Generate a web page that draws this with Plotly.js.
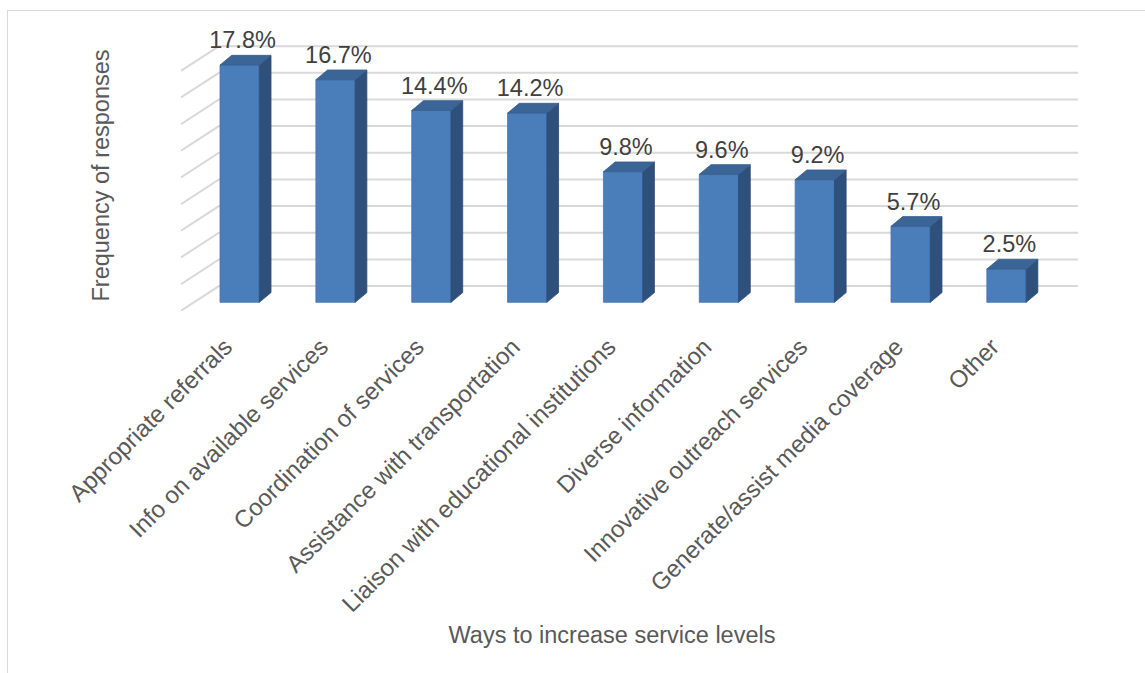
<!DOCTYPE html>
<html>
<head>
<meta charset="utf-8">
<script src="https://cdn.plot.ly/plotly-3.0.1.min.js"></script>
<style>
  html, body { margin: 0; padding: 0; background: #ffffff; overflow: hidden; }
  #frame { position: absolute; left: 7px; top: 10px; width: 1200px; height: 700px; border: 1px solid #d9d9d9; }
  #chart { position: absolute; left: 0; top: 0; width: 1145px; height: 673px; }
</style>
</head>
<body>
<div id="frame"></div>
<div id="chart"></div>
<script>
// ---- data ----
const categories = [
  "Appropriate referrals",
  "Info on available services",
  "Coordination of services",
  "Assistance with transportation",
  "Liaison with educational institutions",
  "Diverse information",
  "Innovative outreach services",
  "Generate/assist media coverage",
  "Other"
];
const values = [17.8, 16.7, 14.4, 14.2, 9.8, 9.6, 9.2, 5.7, 2.5];
const gridValues = [0, 2, 4, 6, 8, 10, 12, 14, 16, 18];
const xTitle = "Ways to increase service levels";
const yTitle = "Frequency of responses";

// ---- pseudo-3D geometry (in axis units) ----
const BAR_W = 0.41, DEPTH_X = 0.122, DEPTH_Y = 0.73;
const WALL_X = -0.216, WALL_Y = 1.22, FLOOR_X = -0.612, FLOOR_Y = -0.63;
const X_MIN = -0.612, X_BARS_MAX = 8.381, X_WALL_MAX = 8.746, Y_MIN = -0.65, Y_MAX = 19.68;
const BAR_DOMAIN_END = (X_BARS_MAX - X_MIN) / (X_WALL_MAX - X_MIN);
const LABEL_GAP = 1.7, TICK_SHIFT = -0.15;

const idx = categories.map((_, i) => i);

// gridlines: floor diagonal + back wall horizontal
const gx = [], gy = [];
gridValues.forEach(g => {
  gx.push(FLOOR_X, WALL_X, X_WALL_MAX, null);
  gy.push(g + FLOOR_Y, g + WALL_Y, g + WALL_Y, null);
});

// front, side and top faces of each bar
const fx = [], fy = [], sx = [], sy = [], tx = [], ty = [];
values.forEach((v, i) => {
  const l = i - BAR_W / 2, r = i + BAR_W / 2;
  fx.push(l, r, r, l, l, null);
  fy.push(0, 0, v, v, 0, null);
  sx.push(r, r + DEPTH_X, r + DEPTH_X, r, r, null);
  sy.push(0, DEPTH_Y, v + DEPTH_Y, v, 0, null);
  tx.push(l, l + DEPTH_X, r + DEPTH_X, r, l, null);
  ty.push(v, v + DEPTH_Y, v + DEPTH_Y, v, v, null);
});

const face = (x, y, fill, edge) => ({
  type: 'scatter', mode: 'lines', x: x, y: y, xaxis: 'x2', yaxis: 'y2',
  fill: 'toself', fillcolor: fill,
  line: { color: edge, width: 0.8 }, hoverinfo: 'skip', showlegend: false, cliponaxis: false
});

const traces = [
  { type: 'scatter', mode: 'lines', x: gx, y: gy, xaxis: 'x', yaxis: 'y',
    line: { color: '#d9d9d9', width: 2 }, hoverinfo: 'skip', showlegend: false },
  face(fx, fy, '#4a7ebb', '#4575b0'),
  face(sx, sy, '#30507c', '#2c4a73'),
  face(tx, ty, '#3b6597', '#365d8c'),
  { type: 'scatter', mode: 'text', xaxis: 'x2', yaxis: 'y2',
    x: idx.map(i => i + 0.03), y: values.map(v => v + LABEL_GAP),
    text: values.map(v => v.toFixed(1) + '%'), textposition: 'middle center',
    textfont: { family: 'Liberation Sans, Arial, sans-serif', size: 23.5, color: '#404040' },
    cliponaxis: false, hoverinfo: 'skip', showlegend: false }
];

const hidden = { showgrid: false, zeroline: false, showline: false, showticklabels: false, ticks: '' };

const layout = {
  width: 1145, height: 673,
  margin: { l: 181, r: 67, t: 40, b: 362 },
  paper_bgcolor: 'rgba(0,0,0,0)',
  plot_bgcolor: 'rgba(0,0,0,0)',
  font: { family: 'Liberation Sans, Arial, sans-serif', color: '#595959' },
  showlegend: false,
  hovermode: false,
  xaxis: Object.assign({ range: [X_MIN, X_WALL_MAX], domain: [0, 1], anchor: 'y' }, hidden),
  yaxis: Object.assign({ range: [Y_MIN, Y_MAX], domain: [0, 1], anchor: 'x' }, hidden),
  xaxis2: {
    range: [X_MIN, X_BARS_MAX], domain: [0, BAR_DOMAIN_END], anchor: 'y2',
    tickvals: idx.map(i => i + TICK_SHIFT), ticktext: categories, tickangle: -45,
    showgrid: false, zeroline: false, showline: false, ticks: '',
    tickfont: { size: 24, color: '#595959' }, ticklabelstandoff: 16,
    title: { text: xTitle, font: { size: 23.5, color: '#595959' }, standoff: 10 }
  },
  yaxis2: {
    range: [Y_MIN, Y_MAX], domain: [0, 1], anchor: 'x2',
    showgrid: false, zeroline: false, showline: false, showticklabels: false, ticks: '',
    title: { text: yTitle, font: { size: 23.5, color: '#595959' }, standoff: 63 }
  }
};

Plotly.newPlot('chart', traces, layout, { displayModeBar: false, staticPlot: true });
</script>
</body>
</html>
